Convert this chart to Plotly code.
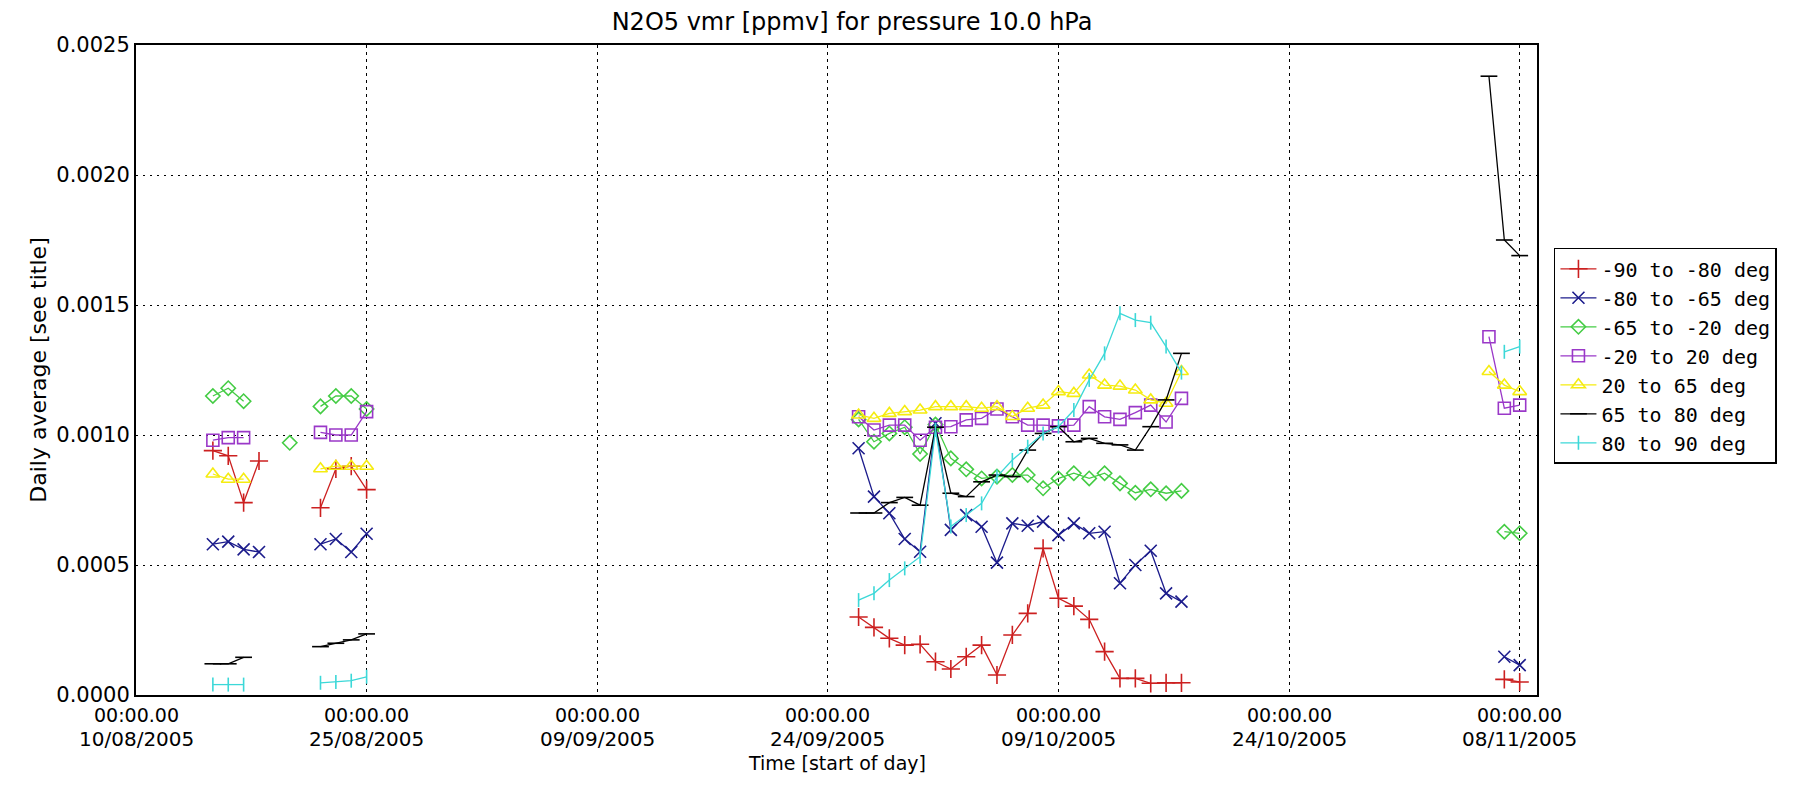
import plotly.graph_objects as go

# ---- data -------------------------------------------------------------
# daily dates; None rows (2005-08-26, 2005-10-18) mark gaps between observing periods
dates = [
    "2005-08-15", "2005-08-16", "2005-08-17", "2005-08-18", "2005-08-19", "2005-08-20",
    "2005-08-21", "2005-08-22", "2005-08-23", "2005-08-24", "2005-08-25", "2005-08-26",
    "2005-09-26", "2005-09-27", "2005-09-28", "2005-09-29", "2005-09-30", "2005-10-01",
    "2005-10-02", "2005-10-03", "2005-10-04", "2005-10-05", "2005-10-06", "2005-10-07",
    "2005-10-08", "2005-10-09", "2005-10-10", "2005-10-11", "2005-10-12", "2005-10-13",
    "2005-10-14", "2005-10-15", "2005-10-16", "2005-10-17", "2005-10-18",
    "2005-11-06", "2005-11-07", "2005-11-08",
]

lat_m90_m80 = [
    0.00094, 0.00092, 0.00074, 0.00090, None, None, None, 0.00072, 0.00087, 0.00088, 0.00079, None,
    0.00030, 0.00026, 0.000218, 0.000192, 0.000195, 0.000128, 0.000100, 0.000147, 0.000192, 0.000077,
    0.000231, 0.000314, 0.000564, 0.000372, 0.000342, 0.000291, 0.000167, 0.000064, 0.000064,
    0.000045, 0.000047, 0.000047, None,
    None, 0.00006, 0.00005,
]
lat_m80_m65 = [
    0.00058, 0.00059, 0.00056, 0.00055, None, None, None, 0.00058, 0.00060, 0.00055, 0.00062, None,
    0.000949, 0.000763, 0.000699, 0.000600, 0.000551, 0.001045, 0.000635, 0.000692, 0.000647, 0.000509,
    0.000660, 0.000651, 0.000667, 0.000615, 0.000660, 0.000622, 0.000628, 0.000430, 0.000500,
    0.000555, 0.000391, 0.000359, None,
    None, 0.000147, 0.000115,
]
lat_m65_m20 = [
    0.00115, 0.00118, 0.00113, None, None, 0.00097, None, 0.00111, 0.00115, 0.00115, 0.00110, None,
    0.00106, 0.000974, 0.001006, 0.00103, 0.000927, 0.00104, 0.000910, 0.000868, 0.000833, 0.000840,
    0.000846, 0.000846, 0.000795, 0.000833, 0.000853, 0.000833, 0.000853, 0.000814, 0.000778,
    0.000791, 0.000776, 0.000785, None,
    None, 0.000628, 0.000622,
]
lat_m20_20 = [
    0.00098, 0.00099, 0.00099, None, None, None, None, 0.00101, 0.00100, 0.00100, 0.00109, None,
    0.00107, 0.001019, 0.001038, 0.001038, 0.000980, 0.00103, 0.001032, 0.001058, 0.001064, 0.00110,
    0.00107, 0.001038, 0.001038, 0.001035, 0.001038, 0.001109, 0.00107, 0.00106, 0.001086,
    0.001115, 0.00105, 0.001141, None,
    0.001378, 0.001103, 0.001115,
]
lat_20_65 = [
    0.00085, 0.00083, 0.00083, None, None, None, None, 0.00087, 0.00088, 0.00088, 0.00088, None,
    0.001077, 0.001064, 0.001083, 0.00109, 0.001096, 0.001109, 0.001109, 0.001109, 0.001103, 0.001109,
    0.001071, 0.001103, 0.001115, 0.001167, 0.00116, 0.001231, 0.001192, 0.001188, 0.001173,
    0.001135, 0.001122, 0.001244, None,
    0.001244, 0.001192, 0.001167,
]
lat_65_80 = [
    0.00012, 0.00012, 0.000145, None, None, None, None, 0.000186, 0.000199, 0.000212, 0.000235, None,
    0.00070, 0.00070, 0.00074, 0.00076, 0.00073, 0.00103, 0.000776, 0.000763, 0.00082, 0.000846,
    0.00084, 0.000942, 0.001006, 0.001032, 0.000974, 0.000987, 0.000968, 0.000962, 0.000942,
    0.001032, 0.001135, 0.001314, None,
    0.00238, 0.00175, 0.00169,
]
lat_80_90 = [
    0.00004, 0.00004, 0.00004, None, None, None, None, 0.000047, 0.00005, 0.000055, 0.00007, None,
    0.000365, 0.000391, 0.000442, 0.000487, 0.000532, 0.00102, 0.000648, 0.000692, 0.000737, 0.00084,
    0.000904, 0.000955, 0.001006, 0.001032, 0.001096, 0.001212, 0.001314, 0.001468, 0.001442,
    0.001432, 0.00134, 0.00124, None,
    None, 0.00132, 0.00134,
]

series_names = ["-90 to -80 deg", "-80 to -65 deg", "-65 to -20 deg", "-20 to 20 deg",
                "20 to 65 deg", "65 to 80 deg", "80 to 90 deg"]

x_tickvals = ["2005-08-10", "2005-08-25", "2005-09-09", "2005-09-24",
              "2005-10-09", "2005-10-24", "2005-11-08"]
x_tick_time = ["00:00.00"] * 7
x_tick_date = ["10/08/2005", "25/08/2005", "09/09/2005", "24/09/2005",
               "09/10/2005", "24/10/2005", "08/11/2005"]
y_tickvals = [0.0, 0.0005, 0.0010, 0.0015, 0.0020, 0.0025]
y_ticktext = ["0.0000", "0.0005", "0.0010", "0.0015", "0.0020", "0.0025"]

# ---- styles -------------------------------------------------------------
styles = [
    dict(color="#cc2020", symbol="cross-thin", size=13),
    dict(color="#1c1c8c", symbol="x-thin", size=12),
    dict(color="#44cc44", symbol="diamond-open", size=11),
    dict(color="#9a38c8", symbol="square-open", size=12),
    dict(color="#f5ec10", symbol="triangle-up-open", size=12),
    dict(color="#000000", symbol="line-ew", size=12),
    dict(color="#3cd8d8", symbol="line-ns", size=10),
]
all_series = [lat_m90_m80, lat_m80_m65, lat_m65_m20, lat_m20_20, lat_20_65, lat_65_80, lat_80_90]

FONT = "DejaVu Sans"
fig = go.Figure()
for name, vals, st in zip(series_names, all_series, styles):
    fig.add_trace(go.Scatter(
        x=dates, y=vals, name=name, mode="lines+markers", connectgaps=False,
        line=dict(color=st["color"], width=1.3),
        marker=dict(symbol=st["symbol"], size=st["size"], color=st["color"],
                    line=dict(color=st["color"], width=1.6)),
    ))

# two-line x tick labels with tight line spacing
annotations = []
for tv, t1, t2 in zip(x_tickvals, x_tick_time, x_tick_date):
    annotations.append(dict(x=tv, xref="x", y=0, yref="paper", text=t1, showarrow=False,
                            xanchor="center", yanchor="middle", yshift=-20, borderpad=0,
                            font=dict(family=FONT, size=19)))
    annotations.append(dict(x=tv, xref="x", y=0, yref="paper", text=t2, showarrow=False,
                            xanchor="center", yanchor="middle", yshift=-44, borderpad=0,
                            font=dict(family=FONT, size=20)))
annotations.append(dict(x=0.5, xref="paper", y=0, yref="paper", text="Time [start of day]",
                        showarrow=False, xanchor="center", yanchor="middle", yshift=-68,
                        borderpad=0, font=dict(family=FONT, size=19)))

# page body has an 8px margin, so the figure is 8px smaller and shifted accordingly
fig.update_layout(
    width=1786, height=779,
    margin=dict(l=128, r=257, t=37, b=92),
    paper_bgcolor="white", plot_bgcolor="white",
    font=dict(family=FONT, size=21, color="black"),
    title=dict(text="N2O5 vmr [ppmv] for pressure 10.0 hPa", x=0.4726, xanchor="center",
               y=0.983, yanchor="middle", yref="container", font=dict(size=24)),
    showlegend=True,
    legend=dict(x=1.0121, xanchor="left", y=0.688, yanchor="top",
                bordercolor="black", borderwidth=1.5, bgcolor="white",
                font=dict(family="DejaVu Sans Mono", size=20), tracegroupgap=0, itemwidth=36),
    annotations=annotations,
)
fig.update_xaxes(
    type="date", range=["2005-08-10", "2005-11-09 03:00"],
    tickmode="array", tickvals=x_tickvals, showticklabels=False,
    showgrid=True, gridcolor="black", gridwidth=1, griddash="3px,4px",
    showline=True, linecolor="black", linewidth=2, mirror=True,
    ticks="", zeroline=False,
)
fig.update_yaxes(
    range=[0, 0.0025], tickmode="array", tickvals=y_tickvals, ticktext=y_ticktext,
    showgrid=True, gridcolor="black", gridwidth=1, griddash="2px,5px",
    showline=True, linecolor="black", linewidth=2, mirror=True,
    ticks="", zeroline=False, tickfont=dict(size=21),
    title=dict(text="Daily average [see title]", font=dict(size=22), standoff=4),
)

fig.write_html("out.html")
